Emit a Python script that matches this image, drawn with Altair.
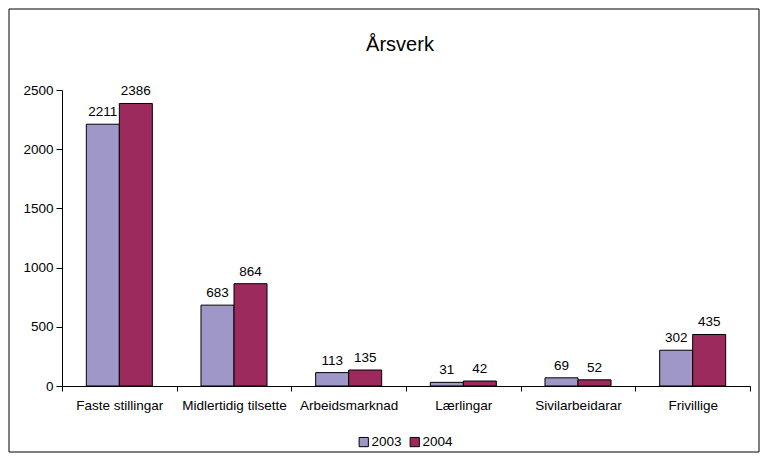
import altair as alt
import pandas as pd

categories = ["Faste stillingar", "Midlertidig tilsette", "Arbeidsmarknad",
              "Lærlingar", "Sivilarbeidarar", "Frivillige"]
years = ["2003", "2004"]
values_2003 = [2211, 683, 113, 31, 69, 302]
values_2004 = [2386, 864, 135, 42, 52, 435]
colors = ["#9E97C8", "#9C2A5C"]

rows = []
for c, a, b in zip(categories, values_2003, values_2004):
    rows.append({"kategori": c, "år": years[0], "verdi": a})
    rows.append({"kategori": c, "år": years[1], "verdi": b})
df = pd.DataFrame(rows)

FONT = "Liberation Sans"
FS = 13.5

x = alt.X("kategori:N", sort=categories, title=None,
          scale=alt.Scale(paddingInner=0, paddingOuter=0),
          axis=alt.Axis(labelAngle=0, tickBand="extent", domainColor="black",
                        tickColor="black", tickSize=5, labelPadding=7,
                        labelFontSize=FS, labelColor="black", labelFont=FONT,
                        grid=False))
xo = alt.XOffset("år:N", sort=years,
                 scale=alt.Scale(paddingOuter=0.737, paddingInner=0))
y = alt.Y("verdi:Q", title=None,
          scale=alt.Scale(domain=[0, 2500], nice=False),
          axis=alt.Axis(values=[0, 500, 1000, 1500, 2000, 2500], grid=False,
                        format="d",
                        domainColor="black", tickColor="black", tickSize=6,
                        labelPadding=3, labelFontSize=FS, labelColor="black",
                        labelFont=FONT))

base = alt.Chart(df)

bars = base.mark_bar(stroke="black", strokeWidth=1).encode(
    x=x, xOffset=xo, y=y,
    color=alt.Color("år:N", sort=years,
                    scale=alt.Scale(domain=years, range=colors),
                    legend=alt.Legend(title=None, orient="none", direction="horizontal",
                                      legendX=295, legendY=345,
                                      symbolType="square", symbolSize=85,
                                      symbolStrokeColor="black", symbolStrokeWidth=1,
                                      labelFontSize=FS, labelFont=FONT,
                                      labelColor="black", labelOffset=1,
                                      columnPadding=6)),
)

labels = base.mark_text(baseline="alphabetic", dy=-8, fontSize=FS, font=FONT,
                        color="black").encode(
    x=x, xOffset=xo, y=y, text=alt.Text("verdi:Q"))

frame = alt.Chart(alt.Data(values=[{"a": 1}])).mark_rect(
    fillOpacity=0, stroke="black", strokeWidth=1).encode(
    x=alt.value(-53), x2=alt.value(697), y=alt.value(-81), y2=alt.value(362))

chart = alt.layer(frame, bars, labels).properties(
    width=688, height=296,
    background="white",
    autosize=alt.AutoSizeParams(type="none"),
    padding={"left": 54, "top": 82, "right": 10, "bottom": 67},
    title=alt.TitleParams("Årsverk", fontSize=20, font=FONT, fontWeight="normal",
                          color="black", offset=-46, dx=-6),
).configure_view(strokeWidth=0, stroke="transparent")

chart.save("out.html", embed_options={"renderer": "svg", "actions": False})
